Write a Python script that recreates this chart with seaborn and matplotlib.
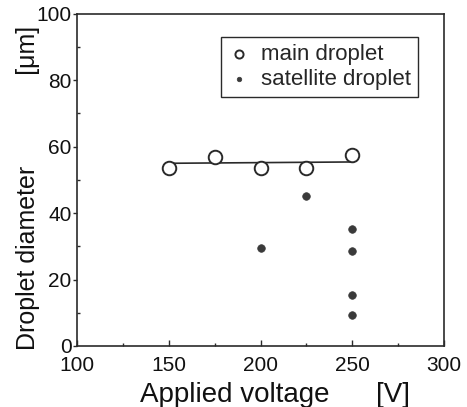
import pandas as pd
import seaborn as sns
import matplotlib
matplotlib.use('Agg')
import matplotlib.pyplot as plt
from matplotlib.ticker import MultipleLocator

# Data
main_voltage = [150, 175, 200, 225, 250]
main_diameter = [53.5, 57.0, 53.5, 53.5, 57.5]

sat_voltage = [200, 225, 250, 250, 250, 250]
sat_diameter = [29.5, 45.0, 35.2, 28.6, 15.4, 9.3]

fit_voltage = [150, 250]
fit_diameter = [55.0, 55.4]

df_main = pd.DataFrame({'voltage': main_voltage, 'diameter': main_diameter})
df_sat = pd.DataFrame({'voltage': sat_voltage, 'diameter': sat_diameter})
df_fit = pd.DataFrame({'voltage': fit_voltage, 'diameter': fit_diameter})

sns.set_style('ticks')
plt.rcParams['font.family'] = ['Liberation Sans', 'DejaVu Sans']

fig = plt.figure(figsize=(4.67, 4.07), dpi=100)
ax = fig.add_axes([0.165, 0.150, 0.786, 0.816])

ink = '#2a2a2a'

# fitted line
sns.lineplot(data=df_fit, x='voltage', y='diameter', ax=ax, color=ink,
             linewidth=1.2, legend=False)

# main droplets: open circles
sns.scatterplot(data=df_main, x='voltage', y='diameter', ax=ax, s=95,
                facecolor='white', edgecolor=ink, linewidth=1.4,
                label='main droplet', zorder=3)

# satellite droplets: filled dots
sns.scatterplot(data=df_sat, x='voltage', y='diameter', ax=ax, s=30,
                color='#3a3a3a', edgecolor='#3a3a3a', linewidth=0.5,
                label='satellite droplet', zorder=3)

ax.set_xlim(100, 300)
ax.set_ylim(0, 100)
ax.xaxis.set_major_locator(MultipleLocator(50))
ax.xaxis.set_minor_locator(MultipleLocator(25))
ax.yaxis.set_major_locator(MultipleLocator(20))
ax.yaxis.set_minor_locator(MultipleLocator(10))
ax.tick_params(which='both', colors=ink, labelcolor='#111111',
               labelsize=15, width=1)
ax.tick_params(axis='x', which='major', direction='in', length=4, pad=7)
ax.tick_params(axis='x', which='minor', direction='in', length=2.5)
ax.tick_params(axis='y', which='major', direction='out', length=3, pad=1)
ax.tick_params(axis='y', which='minor', direction='in', length=2)

for side in ['top', 'right', 'left', 'bottom']:
    ax.spines[side].set_visible(True)
    ax.spines[side].set_color(ink)
    ax.spines[side].set_linewidth(1.2)

ax.set_xlabel('Applied voltage      [V]', fontsize=20, color='#111111')
ax.xaxis.set_label_coords(0.54, -0.108)
ax.set_ylabel('Droplet diameter             [\u03bcm]', fontsize=18, color='#111111')
ax.yaxis.set_label_coords(-0.102, 0.476)

leg = ax.legend(loc='upper right', bbox_to_anchor=(0.928, 0.93), fontsize=16,
                frameon=True, fancybox=False, edgecolor=ink, framealpha=1,
                markerscale=0.6, handletextpad=0.5, borderpad=0.3,
                labelspacing=0.2, handlelength=1.0, borderaxespad=0)
leg.get_frame().set_linewidth(1.0)

plt.savefig('out.png', dpi=100)
